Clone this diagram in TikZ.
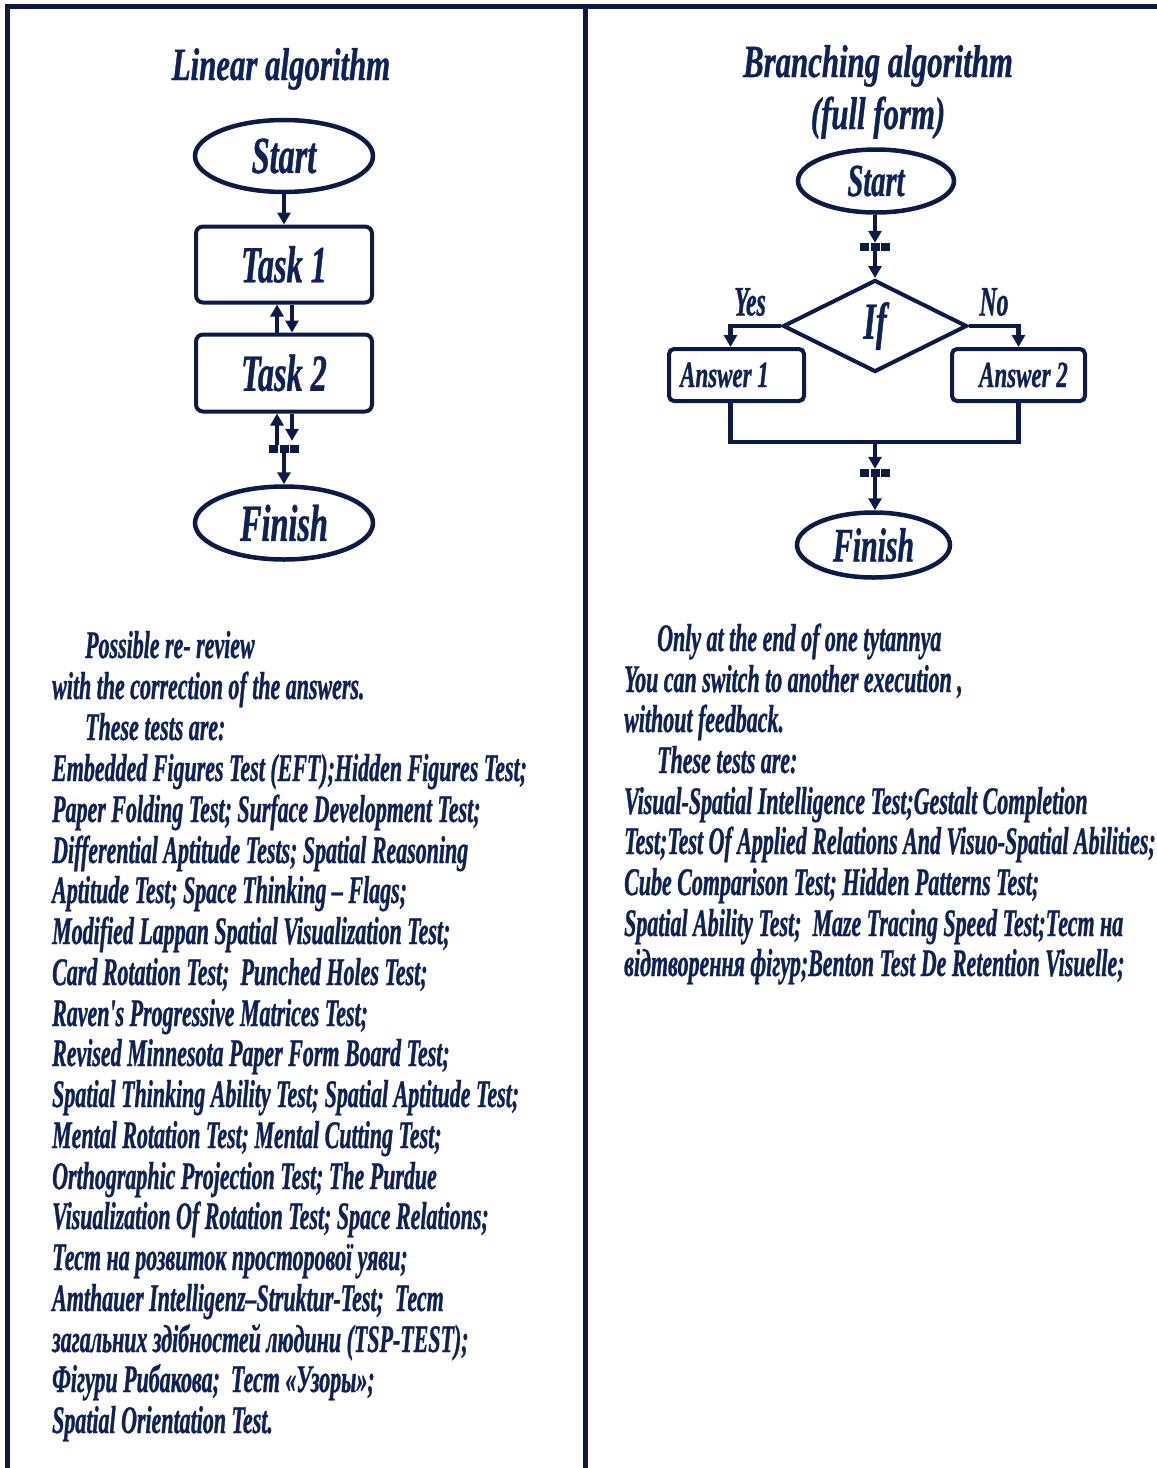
\documentclass[tikz,border=0pt]{standalone}
\usepackage{fontspec}
\newfontfamily\tf{Liberation Serif Bold Italic}[FakeStretch=0.563,FakeBold=0.8]
\newfontfamily\tfb{Liberation Serif Bold Italic}[FakeStretch=0.62,FakeBold=0.8]
\newfontfamily\tft{Liberation Serif Bold Italic}[FakeStretch=0.67,FakeBold=0.8]
\usetikzlibrary{shapes.geometric,arrows.meta,calc}
\definecolor{navy}{HTML}{0B1B45}
\definecolor{ink}{HTML}{0E2257}
\begin{document}
\begin{tikzpicture}[x=1pt,y=-1pt,
  txt/.style={anchor=base west,inner sep=0pt,text=ink,font=\tf\fontsize{39}{40}\selectfont},
  ttl/.style={anchor=base,inner sep=0pt,text=ink,font=\tft\fontsize{46}{46}\selectfont},
  term/.style={ellipse,draw=navy,line width=4.5pt,inner sep=0pt,text=ink},
  proc/.style={rectangle,rounded corners=7pt,draw=navy,line width=4pt,inner sep=0pt,text=ink},
  dec/.style={diamond,draw=navy,line width=4pt,inner sep=0pt,aspect=2,text=ink},
  lbl/.style={inner sep=0pt,text=ink,font=\tf\fontsize{42}{42}\selectfont},
  sq/.style={rectangle,fill=navy,inner sep=0pt,minimum width=9pt,minimum height=8pt},
  arr/.style={draw=navy,line width=4.5pt,-{Triangle[width=13pt,length=12pt]}},
  ln/.style={draw=navy,line width=4.5pt}
]
\useasboundingbox (0,0) rectangle (1157,1468);
\fill[white] (0,0) rectangle (1157,1468);
% frame
\draw[navy,line width=5pt] (7,1468) -- (7,6.5) -- (1157,6.5);
\draw[navy,line width=5pt] (585.5,6.5) -- (585.5,1468);

% ---------- left: linear algorithm ----------
\node[ttl] (t1ttl) at (281,80) {Linear algorithm};
\node[term,minimum width=178pt,minimum height=72pt,font=\tfb\fontsize{52}{52}\selectfont] (s1) at (284,156) {Start};
\node[proc,minimum width=176pt,minimum height=76pt,font=\tfb\fontsize{52}{52}\selectfont] (k1) at (284,264.5) {Task 1};
\node[proc,minimum width=176pt,minimum height=77pt,font=\tfb\fontsize{52}{52}\selectfont] (k2) at (284,373) {Task 2};
\node[term,minimum width=178pt,minimum height=73pt,font=\tfb\fontsize{52}{52}\selectfont] (f1) at (284,523) {Finish};
\node[sq] (b1a) at (273.5,449) {};
\node[sq] (b1b) at (284,449) {};
\node[sq] (b1c) at (294.5,449) {};

\draw[arr] (s1) -- (k1);
\draw[arr] ([xshift=-7pt]k2.north) -- ([xshift=-7pt]k1.south);
\draw[arr] ([xshift=8pt]k1.south) -- ([xshift=8pt]k2.north);
\draw[arr] ([xshift=-7pt]b1b.north) -- ([xshift=-7pt]k2.south);
\draw[arr] ([xshift=8pt]k2.south) -- ([xshift=8pt,yshift=4pt]b1b.north);
\draw[arr] (b1b.south) -- (f1.north);

% ---------- right: branching algorithm ----------
\node[ttl] (t2ttl) at (878,77) {Branching algorithm};
\node[ttl] (t2ttlb) at (878,129) {(full form)};
\node[term,minimum width=156pt,minimum height=63pt,font=\tfb\fontsize{46}{46}\selectfont] (s2) at (876,181) {Start};
\node[sq] (b2a) at (864.5,247) {};
\node[sq] (b2b) at (875,247) {};
\node[sq] (b2c) at (885.5,247) {};
\node[dec,minimum width=184pt,minimum height=92pt,font=\tfb\fontsize{52}{52}\selectfont] (d) at (875,326) {If};
\node[proc,rounded corners=5pt,minimum width=135pt,minimum height=52pt,font=\tfb\fontsize{37}{37}\selectfont] (a1) at (736.5,375) {Answer 1\hspace*{24pt}};
\node[proc,rounded corners=5pt,minimum width=133pt,minimum height=52pt,font=\tfb\fontsize{37}{37}\selectfont] (a2) at (1018.5,375) {\hspace*{10pt}Answer 2};
\node[sq] (b3a) at (864.5,473) {};
\node[sq] (b3b) at (875,473) {};
\node[sq] (b3c) at (885.5,473) {};
\node[term,minimum width=153pt,minimum height=65pt,font=\tfb\fontsize{48}{48}\selectfont] (f2) at (873.5,545) {Finish};
\node[lbl] (yes) at (750,302) {Yes};
\node[lbl] (no) at (994,302) {No};
\coordinate (m) at (875,442);

\draw[arr] (s2.south -| b2b) -- (b2b.north);
\draw[arr] (b2b.south) -- (d.north);
\draw[arr] (d.west) -| ([xshift=-6pt]a1.north);
\draw[arr] (d.east) -| (a2.north);
\draw[ln] ([xshift=-6pt]a1.south) |- (m) -| (a2.south);
\draw[arr] (m) -- (b3b.north);
\draw[arr] (b3b.south) -- (f2.north -| b3b);

% ---------- left text ----------
\node[txt] (l0) at (85,658) {Possible re- review};
\node[txt] (l1) at (52,699) {with the correction of the answers.};
\node[txt] (l2) at (85,740) {These tests are:};
\node[txt] (l3) at (52,781) {Embedded Figures Test (EFT);Hidden Figures Test;};
\node[txt] (l4) at (52,822) {Paper Folding Test; Surface Development Test;};
\node[txt] (l5) at (52,863) {Differential Aptitude Tests; Spatial Reasoning};
\node[txt] (l6) at (52,903) {Aptitude Test; Space Thinking – Flags;};
\node[txt] (l7) at (52,944) {Modified Lappan Spatial Visualization Test;};
\node[txt] (l8) at (52,985) {Card Rotation Test;\ \ Punched Holes Test;};
\node[txt] (l9) at (52,1026) {Raven's Progressive Matrices Test;};
\node[txt] (l10) at (52,1066) {Revised Minnesota Paper Form Board Test;};
\node[txt] (l11) at (52,1107) {Spatial Thinking Ability Test; Spatial Aptitude Test;};
\node[txt] (l12) at (52,1148) {Mental Rotation Test; Mental Cutting Test;};
\node[txt] (l13) at (52,1189) {Orthographic Projection Test; The Purdue};
\node[txt] (l14) at (52,1229) {Visualization Of Rotation Test; Space Relations;};
\node[txt] (l15) at (52,1270) {Тест на розвиток просторової уяви;};
\node[txt] (l16) at (52,1311) {Amthauer Intelligenz–Struktur-Test;\ \ Тест};
\node[txt] (l17) at (52,1352) {загальних здібностей людини (TSP-TEST);};
\node[txt] (l18) at (52,1392) {Фігури Рибакова;\ \ Тест «Узоры»;};
\node[txt] (l19) at (52,1433) {Spatial Orientation Test.};

% ---------- right text ----------
\node[txt] (r0) at (657,651) {Only at the end of one tytannya};
\node[txt] (r1) at (624,692) {You can switch to another execution ,};
\node[txt] (r2) at (624,732) {without feedback.};
\node[txt] (r3) at (657,773) {These tests are:};
\node[txt] (r4) at (624,814) {Visual-Spatial Intelligence Test;Gestalt Completion};
\node[txt] (r5) at (624,854) {Test;Test Of Applied Relations And Visuo-Spatial Abilities;};
\node[txt] (r6) at (624,895) {Cube Comparison Test; Hidden Patterns Test;};
\node[txt] (r7) at (624,936) {Spatial Ability Test;\ \ Maze Tracing Speed Test;Тест на};
\node[txt] (r8) at (624,976) {відтворення фігур;Benton Test De Retention Visuelle;};
\end{tikzpicture}
\end{document}
